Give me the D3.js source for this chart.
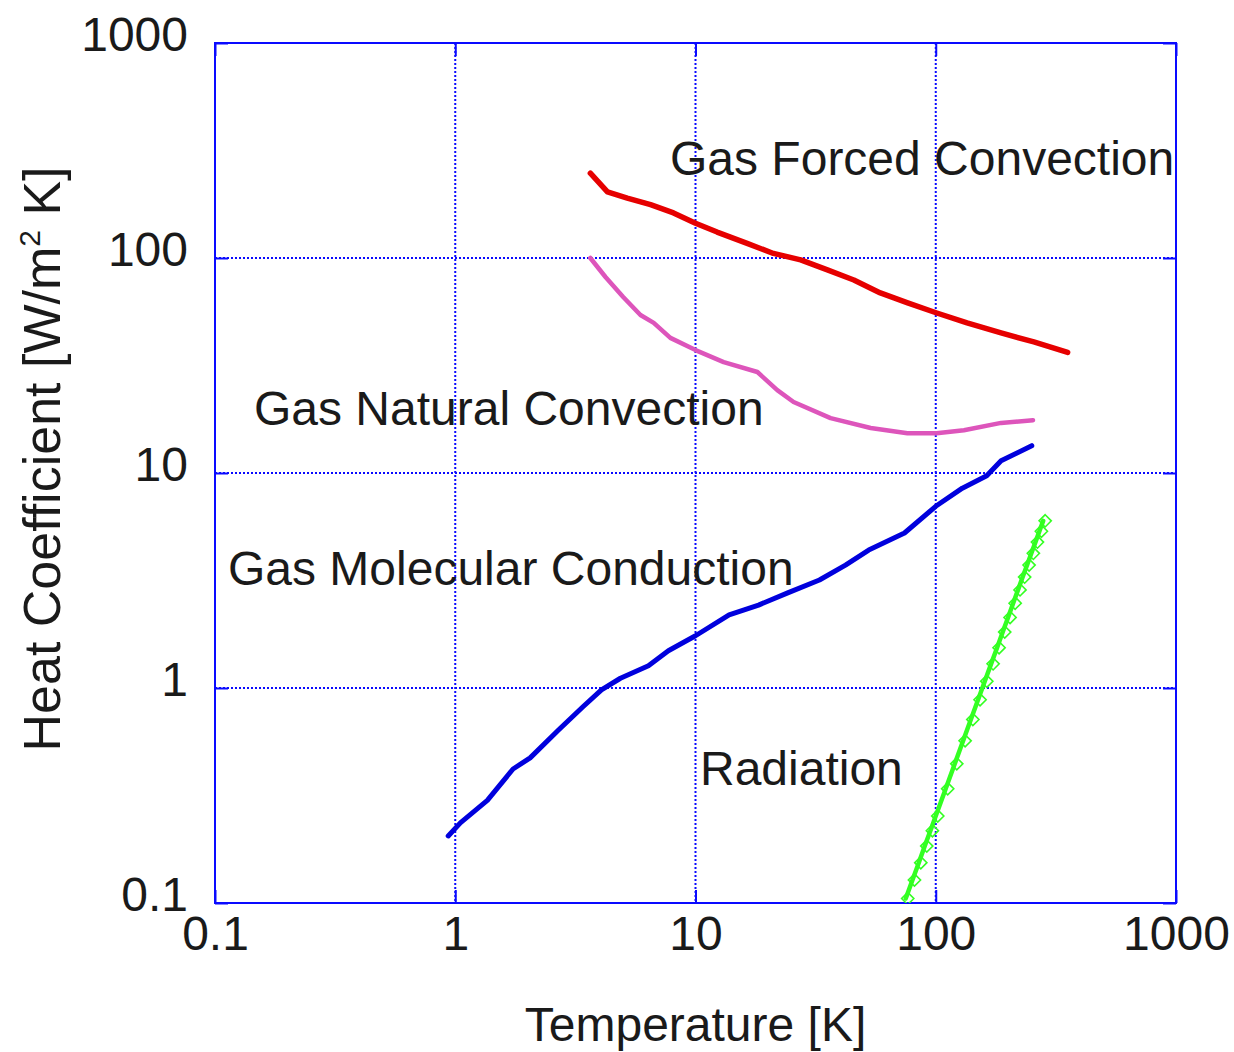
<!DOCTYPE html>
<html>
<head>
<meta charset="utf-8">
<script src="https://cdn.jsdelivr.net/npm/d3@7"></script>
<style>
  html, body { margin: 0; padding: 0; background: #fff; }
  svg { display: block; }
  text { font-family: "Liberation Sans", Arial, Helvetica, sans-serif; fill: #1a1a1a; }
</style>
</head>
<body>
<svg id="chart" width="1234" height="1052"></svg>
<script>
// ---- data ----
const xTicks = [0.1, 1, 10, 100, 1000];
const yTicks = [0.1, 1, 10, 100, 1000];
const xTickLabels = ["0.1", "1", "10", "100", "1000"];
const yTickLabels = ["0.1", "1", "10", "100", "1000"];

const forcedT = [3.65, 4.3, 5.2, 6.5, 8.1, 10, 12.3, 16.4, 21.1, 27.4, 35.4, 45.6, 58.8, 76.4, 101, 135, 187, 256, 354];
const forcedH = [248, 203, 190, 177, 162, 145, 132, 117, 105, 98, 88, 79, 68.8, 61.8, 55.5, 49.9, 44.8, 40.7, 36.4];

const naturalT = [3.65, 4.22, 5.0, 5.9, 6.7, 7.86, 10, 13.1, 18.1, 21.9, 25.6, 36.5, 53.6, 76.2, 100.8, 131, 187, 254];
const naturalH = [100, 81.6, 65.9, 54.3, 49.9, 42.5, 37.3, 32.8, 29.5, 24.3, 21.4, 18.0, 16.2, 15.3, 15.3, 15.8, 17.1, 17.6];

const molecularT = [0.935, 1.05, 1.36, 1.74, 2.05, 2.69, 3.41, 4.06, 4.87, 6.37, 7.71, 10, 13.8, 18.3, 24.2, 32.8, 42.1, 52.6, 74.1, 100, 129, 163, 187, 251];
const molecularH = [0.205, 0.236, 0.30, 0.42, 0.473, 0.638, 0.82, 0.98, 1.11, 1.27, 1.49, 1.75, 2.19, 2.43, 2.77, 3.18, 3.73, 4.38, 5.26, 7.0, 8.5, 9.7, 11.4, 13.4];

const radiationT = [75, 80, 85, 90, 95, 100, 110, 120, 130, 140, 150, 160, 170, 180, 190, 200, 210, 220, 230, 240, 250, 260, 270, 280];
const radiationH = [0.105, 0.128, 0.154, 0.184, 0.217, 0.254, 0.340, 0.444, 0.568, 0.714, 0.882, 1.075, 1.295, 1.54, 1.82, 2.13, 2.48, 2.86, 3.28, 3.73, 4.23, 4.77, 5.36, 5.99];

const seriesNames = ["Gas Forced Convection", "Gas Natural Convection", "Gas Molecular Conduction", "Radiation"];

// ---- layout ----
const svg = d3.select("#chart");
const L = 215, R = 1176, T = 43, B = 903;
const x = d3.scaleLog().domain([0.1, 1000]).range([L, R]);
const y = d3.scaleLog().domain([0.1, 1000]).range([B, T]);
const axisBlue = "#0a0aff";
const tickLen = 13;

// grid (dotted)
const grid = svg.append("g");
grid.selectAll("line.gx").data(xTicks.slice(1, -1)).join("line")
  .attr("x1", d => x(d)).attr("x2", d => x(d)).attr("y1", T).attr("y2", B)
  .attr("stroke", axisBlue).attr("stroke-width", 2).attr("stroke-dasharray", "2,2");
grid.selectAll("line.gy").data(yTicks.slice(1, -1)).join("line")
  .attr("y1", d => y(d)).attr("y2", d => y(d)).attr("x1", L).attr("x2", R)
  .attr("stroke", axisBlue).attr("stroke-width", 2).attr("stroke-dasharray", "2,2");

// axes: bottom & left with labels, top & right mirrored ticks
const fmtX = d => xTickLabels[xTicks.indexOf(d)];
const fmtY = d => yTickLabels[yTicks.indexOf(d)];

const gx = svg.append("g").attr("transform", `translate(0,${B})`)
  .call(d3.axisBottom(x).tickValues(xTicks).tickFormat(fmtX).tickSizeInner(-tickLen).tickSizeOuter(0).tickPadding(13));
const gy = svg.append("g").attr("transform", `translate(${L},0)`)
  .call(d3.axisLeft(y).tickValues(yTicks).tickFormat(fmtY).tickSizeInner(-tickLen).tickSizeOuter(0).tickPadding(27));
const gxt = svg.append("g").attr("transform", `translate(0,${T})`)
  .call(d3.axisTop(x).tickValues(xTicks).tickFormat("").tickSizeInner(-tickLen).tickSizeOuter(0));
const gyr = svg.append("g").attr("transform", `translate(${R},0)`)
  .call(d3.axisRight(y).tickValues(yTicks).tickFormat("").tickSizeInner(-tickLen).tickSizeOuter(0));

[gx, gy, gxt, gyr].forEach(g => {
  g.select(".domain").remove();
  g.selectAll(".tick line").attr("stroke", axisBlue).attr("stroke-width", 2);
  g.selectAll("text").attr("font-size", 48).attr("fill", "#1a1a1a")
    .attr("font-family", '"Liberation Sans", Arial, sans-serif');
});
gy.selectAll(".tick text").attr("dy", "7px");

// frame
svg.append("rect").attr("x", L).attr("y", T).attr("width", R - L).attr("height", B - T)
  .attr("fill", "none").attr("stroke", axisBlue).attr("stroke-width", 2);

// lines
const line = d3.line().x(d => x(d[0])).y(d => y(d[1]));
const zip = (a, b) => a.map((v, i) => [v, b[i]]);

const series = [
  { pts: zip(forcedT, forcedH), color: "#e60000", w: 5.5 },
  { pts: zip(naturalT, naturalH), color: "#dd55bb", w: 4.5 },
  { pts: zip(molecularT, molecularH), color: "#0000dd", w: 5 },
  { pts: zip(radiationT, radiationH), color: "#33ff22", w: 4.5 }
];
svg.append("clipPath").attr("id", "plotclip")
  .append("rect").attr("x", L).attr("y", T - 5).attr("width", R - L).attr("height", B - T + 5);

const plot = svg.append("g").attr("clip-path", "url(#plotclip)");
series.forEach(s => {
  plot.append("path").datum(s.pts).attr("d", line)
    .attr("fill", "none").attr("stroke", s.color).attr("stroke-width", s.w)
    .attr("stroke-linejoin", "round").attr("stroke-linecap", "round");
});
// radiation diamond markers
const diamond = d3.symbol().type(d3.symbolDiamond2 || d3.symbolDiamond).size(95);
plot.selectAll("path.mk").data(series[3].pts).join("path")
  .attr("transform", d => `translate(${x(d[0]) + 2},${y(d[1])})`)
  .attr("d", diamond).attr("fill", "none").attr("stroke", "#33ff22").attr("stroke-width", 1.6);

// annotations
const notes = [
  { t: seriesNames[0], x: 670, y: 175 },
  { t: seriesNames[1], x: 254, y: 425 },
  { t: seriesNames[2], x: 228, y: 585 },
  { t: seriesNames[3], x: 700, y: 785 }
];
svg.selectAll("text.note").data(notes).join("text").attr("class", "note")
  .attr("x", d => d.x).attr("y", d => d.y).attr("font-size", 48).text(d => d.t);

// axis titles
svg.append("text").attr("x", (L + R) / 2).attr("y", 1041).attr("text-anchor", "middle")
  .attr("font-size", 48).text("Temperature [K]");

const yl = svg.append("text").attr("transform", "translate(60,459) rotate(-90)")
  .attr("text-anchor", "middle").attr("font-size", 52);
yl.append("tspan").text("Heat Coefficient [W/m");
yl.append("tspan").attr("font-size", 30).attr("dy", -20).text("2");
yl.append("tspan").attr("dy", 20).text(" K]");
</script>
</body>
</html>
